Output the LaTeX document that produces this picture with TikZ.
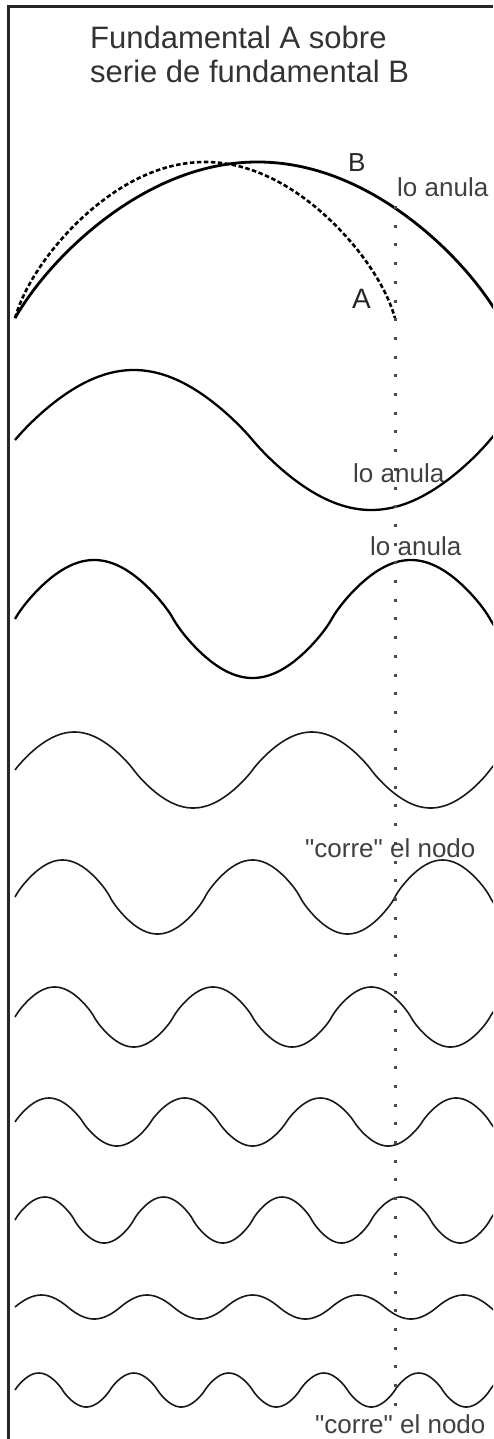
\documentclass[tikz,border=0pt]{standalone}
\usepackage{fontspec}
\setmainfont{Liberation Sans}[Ligatures=TeXOff]
\begin{document}
\begin{tikzpicture}[x=1pt,y=-1pt,
  % rounded wave: blend (weight w) of circular arcs and a sine; phase t in degrees, arc ratio al
  declare function={
    cR(\al)=(1+\al*\al)/(2*\al);
    cd(\t)=2*mod(\t,180)/180-1;
    cw(\t,\al,\w)=ifthenelse(mod(\t,360)<180,1,-1)*(\w*(sqrt(cR(\al)^2-cd(\t)^2)-(cR(\al)-\al))/\al+(1-\w)*abs(sin(\t)));
  },
  frame/.style={draw=black!85, line width=3pt},
  fundB/.style={draw=black, line width=2.8pt, line join=round},
  fundA/.style={draw=black, line width=2.6pt, dash pattern=on 4.5pt off 2.5pt},
  wavebold/.style={draw=black, line width=2.3pt},
  wavethin/.style={draw=black!90, line width=1.6pt},
  nodeline/.style={draw=black!70, line width=3pt, dash pattern=on 3pt off 15.7pt},
  titletext/.style={anchor=base west, inner sep=0pt, text=black!80, font=\fontsize{31}{34}\selectfont, align=left},
  lbl/.style={anchor=base west, inner sep=0pt, text=black!75, font=\fontsize{26}{28}\selectfont},
  letter/.style={anchor=base west, inner sep=0pt, text=black!85}
]
\useasboundingbox (0,0) rectangle (493,1439);
\clip (0,0) rectangle (493,1439);

% frame: top and left edges only
\draw[frame] (493,6.5) -- (8.5,6.5) -- (8.5,1439);

% title
\node[titletext] (t1) at (90,49) {Fundamental A sobre};
\node[titletext] (t2) at (90,83) {serie de fundamental B};

% fundamental B (solid half wave) and A (dashed half wave)
\draw[fundB] plot[domain=15:495, samples=200] (\x, {318 - 156*cw((\x-15)/485*180, 0.643, 0.6)});
\draw[fundA] plot[domain=15:395, samples=160] (\x, {318 - 156*cw((\x-15)/380*180, 0.821, 0.6)});

\node[letter, font=\fontsize{26}{28}\selectfont] (labB) at (348,172) {B};
\node[letter, font=\fontsize{28}{30}\selectfont] (labA) at (352,308) {A};

% harmonics of B
\draw[wavebold] plot[domain=15:495, samples=240] (\x, {440 - 70*cw((\x-15)/475*360, 0.59, 0.3)});
\draw[wavebold] plot[domain=15:495, samples=240] (\x, {619 - 59*cw((\x-15)/316.7*360, 0.745, 0.3)});
\draw[wavethin] plot[domain=15:495, samples=240] (\x, {770 - 38*cw((\x-15)/237.5*360, 0.64, 0.3)});
\draw[wavethin] plot[domain=15:495, samples=240] (\x, {897 - 37*cw((\x-15)/190*360, 0.779, 0.3)});
\draw[wavethin] plot[domain=15:495, samples=240] (\x, {1017 - 30*cw((\x-15)/158.33*360, 0.758, 0.3)});
\draw[wavethin] plot[domain=15:495, samples=240] (\x, {1122 - 24*cw((\x-15)/135.71*360, 0.707, 0.3)});
\draw[wavethin] plot[domain=15:495, samples=240] (\x, {1220 - 23*cw((\x-15)/118.75*360, 0.775, 0.3)});
\draw[wavethin] plot[domain=15:495, samples=240] (\x, {1307 - 12*cw((\x-15)/105.56*360, 0.455, 0.3)});
\draw[wavethin] plot[domain=15:495, samples=240] (\x, {1390 - 17*cw((\x-15)/95*360, 0.716, 0.3)});

% vertical line through the node of A
\coordinate (ntop) at (395,206);
\coordinate (nbot) at (395,1410);
\draw[nodeline] (ntop) -- (nbot);

% annotations
\node[lbl] (an1) at (397,197) {lo anula};
\node[lbl] (an2) at (353,482) {lo anula};
\node[lbl] (an3) at (370,555) {lo anula};
\node[lbl] (co1) at (305,857) {"corre" el nodo};
\node[lbl] (co2) at (315,1433) {"corre" el nodo};
\end{tikzpicture}
\end{document}
